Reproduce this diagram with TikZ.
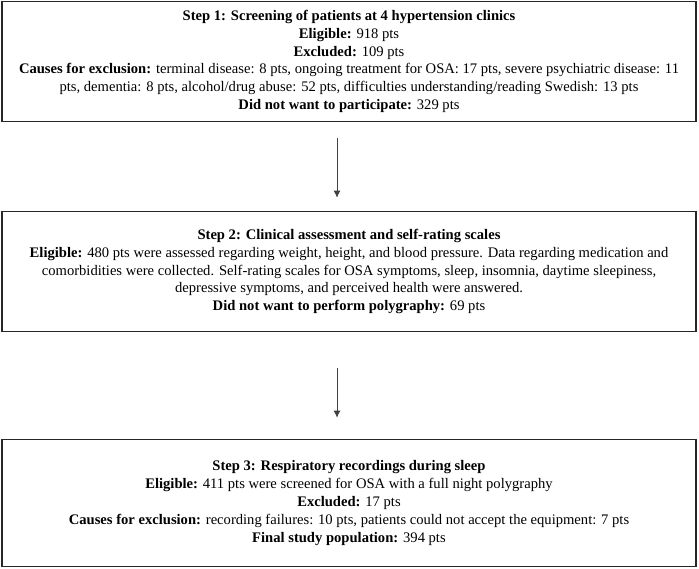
\documentclass[tikz,border=0pt]{standalone}
\usepackage{fontspec}
\setmainfont{Liberation Serif}
\usetikzlibrary{arrows.meta}

\begin{document}
\begin{tikzpicture}[x=1pt,y=-1pt,
    stepbox/.style={draw=black!85, line width=1.6pt, minimum width=694pt,
        align=center, inner sep=0pt, font=\fontsize{14.6}{17.8}\selectfont},
    flow/.style={-{Latex[length=7pt,width=7pt]}, black!75, line width=0.9pt}]
    \useasboundingbox (0,0) rectangle (699,569);

    % Step 1 box
    \node[stepbox, minimum height=120pt] (step1) at (349,61.5) {%
        \textbf{Step 1: Screening of patients at 4 hypertension clinics}\\
        \textbf{Eligible:} 918 pts\\
        \textbf{Excluded:} 109 pts\\
        \textbf{Causes for exclusion:} terminal disease: 8 pts, ongoing treatment for OSA: 17 pts, severe psychiatric disease: 11\\
        pts, dementia: 8 pts, alcohol/drug abuse: 52 pts, difficulties understanding/reading Swedish: 13 pts\\
        \textbf{Did not want to participate:} 329 pts};

    % Step 2 box
    \node[stepbox, minimum height=120pt] (step2) at (349,271.5) {%
        \textbf{Step 2: Clinical assessment and self-rating scales}\\
        \textbf{Eligible:} 480 pts were assessed regarding weight, height, and blood pressure. Data regarding medication and\\
        comorbidities were collected. Self-rating scales for OSA symptoms, sleep, insomnia, daytime sleepiness,\\
        depressive symptoms, and perceived health were answered.\\
        \textbf{Did not want to perform polygraphy:} 69 pts};

    % Step 3 box
    \node[stepbox, minimum height=127pt] (step3) at (349,503) {%
        \textbf{Step 3: Respiratory recordings during sleep}\\
        \textbf{Eligible:} 411 pts were screened for OSA with a full night polygraphy\\
        \textbf{Excluded:} 17 pts\\
        \textbf{Causes for exclusion:} recording failures: 10 pts, patients could not accept the equipment: 7 pts\\
        \textbf{Final study population:} 394 pts};

    % Arrows between steps
    \draw[flow, shorten <=16pt, shorten >=13pt] ([xshift=-12pt]step1.south) -- ([xshift=-12pt]step2.north);
    \draw[flow, shorten <=36pt, shorten >=21pt] ([xshift=-12pt]step2.south) -- ([xshift=-12pt]step3.north);
\end{tikzpicture}
\end{document}
